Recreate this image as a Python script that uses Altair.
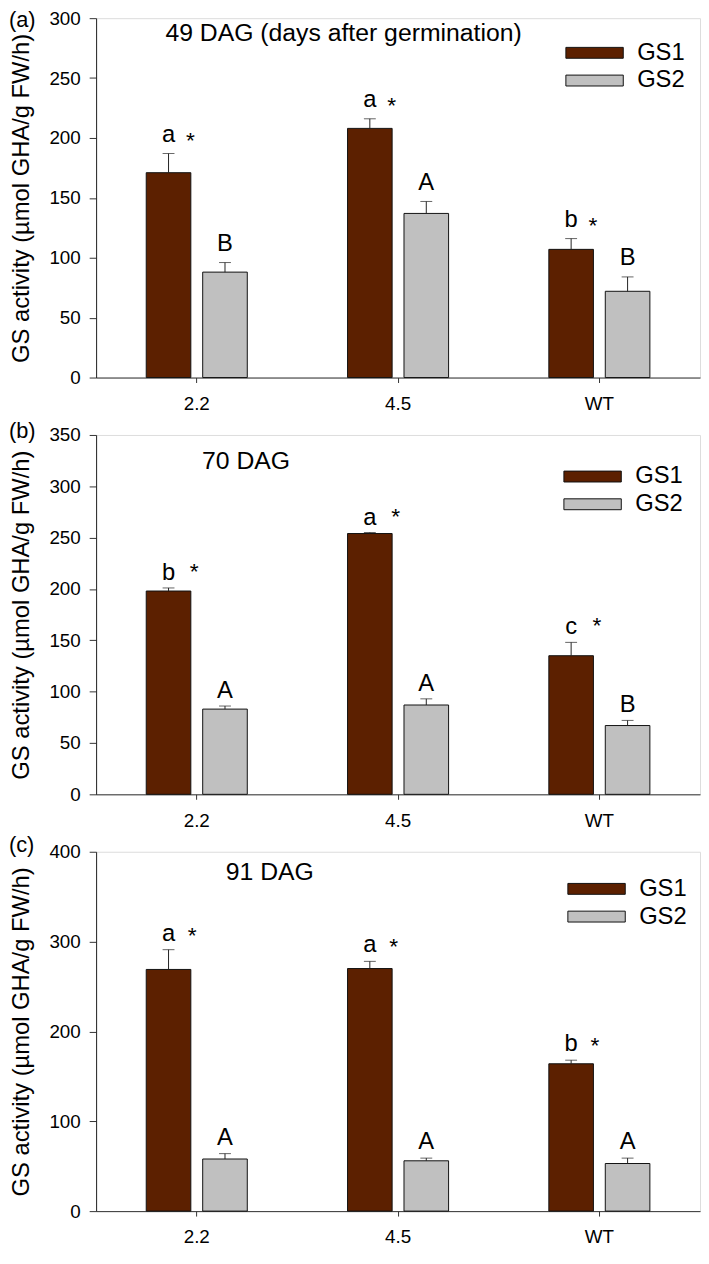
import altair as alt
import pandas as pd

genotypes = ["2.2", "4.5", "WT"]
enzymes = ["GS1", "GS2"]
colors = ["#5C2000", "#C0C0C0"]

# (a) 49 DAG
a_gs1 = [171, 208, 107]
a_gs1_err = [16, 8, 9]
a_gs2 = [88, 137, 72]
a_gs2_err = [8, 10, 12]
a_gs1_letters = ["a", "a", "b"]
a_gs2_letters = ["B", "A", "B"]

# (b) 70 DAG
b_gs1 = [198, 254, 135]
b_gs1_err = [3, 1, 13]
b_gs2 = [83, 87, 67]
b_gs2_err = [3, 6, 5]
b_gs1_letters = ["b", "a", "c"]
b_gs2_letters = ["A", "A", "B"]

# (c) 91 DAG
c_gs1 = [269, 270, 164]
c_gs1_err = [22, 8, 4]
c_gs2 = [58, 56, 53]
c_gs2_err = [6, 3, 6]
c_gs1_letters = ["a", "a", "b"]
c_gs2_letters = ["A", "A", "A"]

gs1_marks = ["*", "*", "*"]

y_title = "GS activity (µmol GHA/g FW/h)"
FONT = "Liberation Sans"

panels = [
    dict(tag="(a)", title="49 DAG (days after germination)",
         gs1=a_gs1, gs1e=a_gs1_err, gs2=a_gs2, gs2e=a_gs2_err,
         l1=a_gs1_letters, l2=a_gs2_letters, ymax=300, step=50,
         title_x=70, title_y=15, tag_y=2, leg_x=491.5, leg_y=23,
         letter_dy=-12, star_dx=22, star_dy=-6),
    dict(tag="(b)", title="70 DAG",
         gs1=b_gs1, gs1e=b_gs1_err, gs2=b_gs2, gs2e=b_gs2_err,
         l1=b_gs1_letters, l2=b_gs2_letters, ymax=350, step=50,
         title_x=107, title_y=26, tag_y=-4, leg_x=489.5, leg_y=30,
         letter_dy=-8, star_dx=26, star_dy=-9),
    dict(tag="(c)", title="91 DAG",
         gs1=c_gs1, gs1e=c_gs1_err, gs2=c_gs2, gs2e=c_gs2_err,
         l1=c_gs1_letters, l2=c_gs2_letters, ymax=400, step=100,
         title_x=131, title_y=21, tag_y=-7, leg_x=493.5, leg_y=25.5,
         letter_dy=-9, star_dx=24, star_dy=-7),
]

W, H = 610, 363
# legend swatch 58 x 11 px drawn with a small symbolSize (sqrt = 11, unit = 5.5 px)
rect_path = "M-5.27,-1L5.27,-1L5.27,1L-5.27,1Z"


def make_panel(p):
    rows = []
    for i, g in enumerate(genotypes):
        rows.append(dict(genotype=g, enzyme="GS1", value=p["gs1"][i],
                         top=p["gs1"][i] + p["gs1e"][i], letter=p["l1"][i],
                         star=gs1_marks[i]))
        rows.append(dict(genotype=g, enzyme="GS2", value=p["gs2"][i],
                         top=p["gs2"][i] + p["gs2e"][i], letter=p["l2"][i],
                         star=""))
    df = pd.DataFrame(rows)

    x = alt.X("genotype:N",
              scale=alt.Scale(domain=genotypes, paddingInner=0.498, paddingOuter=0.249),
              axis=alt.Axis(title=None, labelAngle=0, labelFontSize=19, labelColor="black",
                            tickSize=5, tickColor="#333", labelPadding=12,
                            domainColor="#333", labelFont=FONT))
    xo = alt.XOffset("enzyme:N", scale=alt.Scale(domain=enzymes, paddingInner=0.21, paddingOuter=0))
    y_scale = alt.Scale(domain=[0, p["ymax"]], nice=False)
    y = alt.Y("value:Q", scale=y_scale,
              axis=alt.Axis(title=y_title, values=list(range(0, p["ymax"] + 1, p["step"])),
                            grid=False, labelFontSize=19, labelColor="black", tickSize=7,
                            tickColor="#333", labelPadding=9, domainColor="#222",
                            titleFontSize=24, titleFontWeight="normal", titleColor="black",
                            titlePadding=16, titleFont=FONT, labelFont=FONT))

    base = alt.Chart(df)
    bars = base.mark_bar(stroke="#111", strokeWidth=1).encode(
        x=x, xOffset=xo, y=y,
        color=alt.Color("enzyme:N", scale=alt.Scale(domain=enzymes, range=colors),
                        legend=alt.Legend(title=None, orient="none",
                                          legendX=p["leg_x"], legendY=p["leg_y"],
                                          symbolType=rect_path, symbolSize=121,
                                          symbolStrokeColor="#111", symbolStrokeWidth=1,
                                          symbolOpacity=1,
                                          labelFontSize=24, labelOffset=31, labelFont=FONT,
                                          labelColor="black", rowPadding=4)))
    rule = base.mark_rule(color="#222", strokeWidth=1).encode(
        x=alt.X("genotype:N"), xOffset=alt.XOffset("enzyme:N"),
        y=alt.Y("value:Q"), y2="top:Q")
    cap = base.mark_tick(color="#222", thickness=1, size=12).encode(
        x=alt.X("genotype:N"), xOffset=alt.XOffset("enzyme:N"), y=alt.Y("top:Q"))
    letters = base.mark_text(fontSize=24, font=FONT, color="black", baseline="alphabetic",
                             dy=p["letter_dy"]).encode(
        x=alt.X("genotype:N"), xOffset=alt.XOffset("enzyme:N"), y=alt.Y("top:Q"),
        text="letter:N")
    stars = base.transform_filter(alt.datum.enzyme == "GS1").mark_text(
        fontSize=23, font=FONT, color="black", baseline="alphabetic",
        dx=p["star_dx"], dy=p["star_dy"]).encode(
        x=alt.X("genotype:N"), xOffset=alt.XOffset("enzyme:N"), y=alt.Y("top:Q"),
        text="star:N")
    title_txt = alt.Chart(pd.DataFrame({"t": [p["title"]]})).mark_text(
        fontSize=25, font=FONT, color="black", align="left", baseline="middle").encode(
        x=alt.value(p["title_x"]), y=alt.value(p["title_y"]), text="t:N")
    tag_txt = alt.Chart(pd.DataFrame({"t": [p["tag"]]})).mark_text(
        fontSize=22, font=FONT, color="black", align="left", baseline="middle").encode(
        x=alt.value(-88), y=alt.value(p["tag_y"]), text="t:N")

    return alt.layer(bars, rule, cap, letters, stars, title_txt, tag_txt).properties(
        width=W, height=H)


chart = alt.vconcat(*[make_panel(p) for p in panels], spacing=58, bounds="flush").resolve_scale(
    y="independent", color="independent").resolve_legend(color="independent").properties(
    padding={"left": 0, "top": -6, "right": 0, "bottom": -4}
).configure_view(stroke="#555", strokeWidth=1).configure(font=FONT)

chart.save("out.html", embed_options={"renderer": "svg", "actions": False})
